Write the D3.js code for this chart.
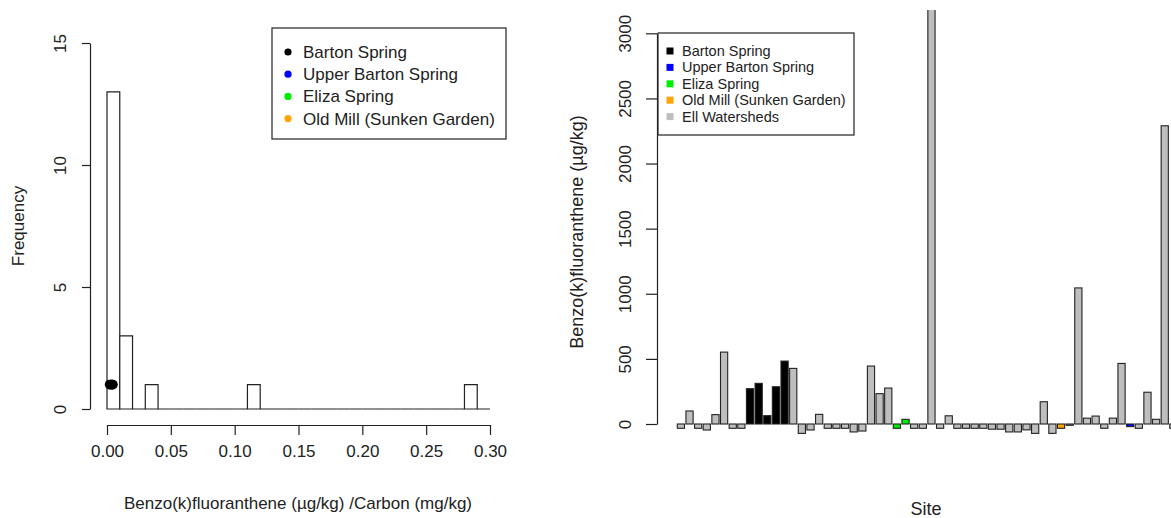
<!DOCTYPE html>
<html>
<head>
<meta charset="utf-8">
<script src="https://cdn.jsdelivr.net/npm/d3@7"></script>
<style>
  body { margin: 0; background: #fff; }
  text { font-family: "Liberation Sans", Arial, sans-serif; fill: #222; }
</style>
</head>
<body>
<svg width="1171" height="518"></svg>
<script>
// ---- left panel: histogram of ratio ----
const histStep = 0.01;
const histCounts = [13, 3, 0, 1, 0, 0, 0, 0, 0, 0, 0, 1, 0, 0, 0, 0, 0, 0, 0, 0, 0, 0, 0, 0, 0, 0, 0, 0, 1, 0];
const bartonRatios = [0.0020, 0.0028, 0.0035, 0.0042, 0.0047];
const histXTicks = [0, 0.05, 0.10, 0.15, 0.20, 0.25, 0.30];
const histYTicks = [0, 5, 10, 15];
const springNames = ['Barton Spring', 'Upper Barton Spring', 'Eliza Spring', 'Old Mill (Sunken Garden)'];
const springColors = ['#000000', '#0000ff', '#00ee00', '#ffa500'];

// ---- right panel: bars per site ----
const siteValues = [-33, 100, -33, -46, 72, 552, -33, -33, 271, 312, 64, 286, 483, 427, -72, -46, 74, -33, -33, -33,
  -61, -54, 445, 233, 276, -33, 36, -33, -33, 3600, -33, 63, -33, -33, -33, -33, -40, -40, -61, -61,
  -45, -72, 171, -72, -33, -10, 1045, 45, 61, -33, 45, 465, -20, -33, 244, 36, 2290, -33];
const siteGroups = ['E', 'E', 'E', 'E', 'E', 'E', 'E', 'E', 'B', 'B', 'B', 'B', 'B', 'E', 'E', 'E', 'E', 'E', 'E', 'E',
  'E', 'E', 'E', 'E', 'E', 'G', 'G', 'E', 'E', 'E', 'E', 'E', 'E', 'E', 'E', 'E', 'E', 'E', 'E', 'E',
  'E', 'E', 'E', 'E', 'O', 'E', 'E', 'E', 'E', 'E', 'E', 'E', 'U', 'E', 'E', 'E', 'E', 'E'];
const groupKeys = ['B', 'U', 'G', 'O', 'E'];
const groupNames = ['Barton Spring', 'Upper Barton Spring', 'Eliza Spring', 'Old Mill (Sunken Garden)', 'Ell Watersheds'];
const groupColors = ['#000000', '#0000ff', '#00ee00', '#ffa500', '#bebebe'];
const siteYTicks = [0, 500, 1000, 1500, 2000, 2500, 3000];

const svg = d3.select('svg');
svg.append('rect').attr('width', 1171).attr('height', 518).attr('fill', '#fff');

// ===== left histogram =====
const hx = d3.scaleLinear().domain([0, 0.30]).range([107, 490]);
const hy = d3.scaleLinear().domain([0, 15]).range([409, 43]);
const left = svg.append('g');

// bins as paths so that empty bins still leave their base line
left.selectAll('path.bin')
  .data(histCounts)
  .join('path')
  .attr('class', 'bin')
  .attr('d', (d, i) => {
    const a = hx(i * histStep), b = hx((i + 1) * histStep);
    return `M${a},${hy(0)}V${hy(d)}H${b}V${hy(0)}Z`;
  })
  .attr('fill', '#fff')
  .attr('stroke', '#222')
  .attr('stroke-width', 1.2);

left.selectAll('circle.pt')
  .data(bartonRatios)
  .join('circle')
  .attr('class', 'pt')
  .attr('cx', d => hx(d))
  .attr('cy', hy(1))
  .attr('r', 4.8)
  .attr('fill', springColors[0]);

const hyAxis = left.append('g')
  .attr('transform', 'translate(90,0)')
  .call(d3.axisLeft(hy).tickValues(histYTicks).tickSize(8).tickSizeOuter(0));
const hxAxis = left.append('g')
  .attr('transform', 'translate(0,425)')
  .call(d3.axisBottom(hx).tickValues(histXTicks).tickFormat(d3.format('.2f')).tickSize(10).tickSizeOuter(0));

[hyAxis, hxAxis].forEach(a => {
  a.selectAll('path, line').attr('stroke', '#222').attr('stroke-width', 1.2);
  a.selectAll('text').attr('font-size', 17).attr('fill', '#222')
    .style('font-family', '"Liberation Sans", Arial, sans-serif');
});
hyAxis.selectAll('text')
  .attr('x', null).attr('dy', null)
  .attr('text-anchor', 'middle')
  .attr('transform', 'translate(-24,0) rotate(-90)');
hxAxis.selectAll('text').attr('y', 27).attr('dy', '0.32em');

left.append('text')
  .attr('transform', 'translate(24,226) rotate(-90)')
  .attr('text-anchor', 'middle')
  .attr('font-size', 17)
  .text('Frequency');
left.append('text')
  .attr('x', 298).attr('y', 509)
  .attr('text-anchor', 'middle')
  .attr('font-size', 17)
  .text('Benzo(k)fluoranthene (µg/kg) /Carbon (mg/kg)');

// left legend
const lleg = left.append('g');
lleg.append('rect')
  .attr('x', 272).attr('y', 28).attr('width', 234).attr('height', 111)
  .attr('fill', '#fff').attr('stroke', '#222').attr('stroke-width', 1.2);
const llegRows = lleg.selectAll('g.row')
  .data(springNames)
  .join('g')
  .attr('class', 'row')
  .attr('transform', (d, i) => `translate(288,${52 + i * 22.2})`);
llegRows.append('circle').attr('r', 3.6).attr('fill', (d, i) => springColors[i]);
llegRows.append('text')
  .attr('x', 15).attr('dy', '0.35em')
  .attr('font-size', 17)
  .text(d => d);

// ===== right bar chart =====
const step = 8.64;
const x0 = 677.3 - step / 12;
const bx = d3.scaleBand()
  .domain(d3.range(siteValues.length))
  .range([x0, x0 + siteValues.length * step])
  .paddingInner(1 / 6)
  .paddingOuter(1 / 12);
const by = d3.scaleLinear().domain([0, 3000]).range([424, 33.3]);
const colorOf = d3.scaleOrdinal().domain(groupKeys).range(groupColors);

svg.append('clipPath').attr('id', 'plotclip')
  .append('rect').attr('x', 640).attr('y', 10).attr('width', 540).attr('height', 480);

const right = svg.append('g');
right.append('g')
  .attr('clip-path', 'url(#plotclip)')
  .selectAll('rect')
  .data(siteValues)
  .join('rect')
  .attr('x', (d, i) => bx(i))
  .attr('width', bx.bandwidth())
  .attr('y', d => by(Math.max(0, d)))
  .attr('height', d => Math.abs(by(d) - by(0)))
  .attr('fill', (d, i) => colorOf(siteGroups[i]))
  .attr('stroke', '#222')
  .attr('stroke-width', 1.1);

const byAxis = right.append('g')
  .attr('transform', 'translate(657,0)')
  .call(d3.axisLeft(by).tickValues(siteYTicks).tickFormat(d3.format('d')).tickSize(11).tickSizeOuter(0));
byAxis.selectAll('path, line').attr('stroke', '#222').attr('stroke-width', 1.2);
byAxis.selectAll('text')
  .attr('font-size', 17).attr('fill', '#222')
  .style('font-family', '"Liberation Sans", Arial, sans-serif')
  .attr('x', null).attr('dy', null)
  .attr('text-anchor', 'middle')
  .attr('transform', 'translate(-26,0) rotate(-90)');

right.append('text')
  .attr('transform', 'translate(583,232) rotate(-90)')
  .attr('text-anchor', 'middle')
  .attr('font-size', 18)
  .text('Benzo(k)fluoranthene (µg/kg)');
right.append('text')
  .attr('x', 926).attr('y', 515)
  .attr('text-anchor', 'middle')
  .attr('font-size', 18)
  .text('Site');

// right legend
const rleg = right.append('g');
rleg.append('rect')
  .attr('x', 658).attr('y', 33).attr('width', 196).attr('height', 102)
  .attr('fill', '#fff').attr('stroke', '#222').attr('stroke-width', 1.2);
const rlegRows = rleg.selectAll('g.row')
  .data(groupNames)
  .join('g')
  .attr('class', 'row')
  .attr('transform', (d, i) => `translate(670,${51 + i * 16.4})`);
rlegRows.append('rect')
  .attr('x', -3.5).attr('y', -3.5).attr('width', 7).attr('height', 7)
  .attr('fill', (d, i) => groupColors[i]);
rlegRows.append('text')
  .attr('x', 12).attr('dy', '0.35em')
  .attr('font-size', 14.5)
  .text(d => d);
</script>
</body>
</html>
